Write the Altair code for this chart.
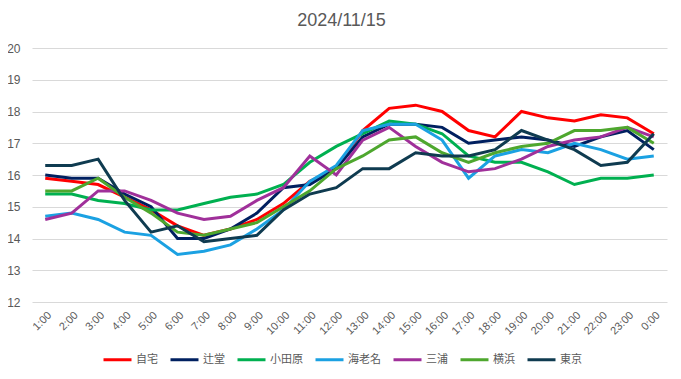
import altair as alt
import pandas as pd

hours = ["1:00", "2:00", "3:00", "4:00", "5:00", "6:00", "7:00", "8:00", "9:00", "10:00",
         "11:00", "12:00", "13:00", "14:00", "15:00", "16:00", "17:00", "18:00", "19:00",
         "20:00", "21:00", "22:00", "23:00", "0:00"]

series_names = ["自宅", "辻堂", "小田原", "海老名", "三浦", "横浜", "東京"]
series_colors = ["#FF0000", "#002060", "#00B050", "#1BA1E2", "#A0309A", "#4EA72E", "#0F3B50"]

jitaku   = [15.9, 15.8, 15.7, 15.3, 14.9, 14.4, 14.1, 14.3, 14.6, 15.1, 15.8, 16.2, 17.4, 18.1, 18.2, 18.0, 17.4, 17.2, 18.0, 17.8, 17.7, 17.9, 17.8, 17.3]
tsujido  = [16.0, 15.9, 15.9, 15.4, 15.0, 14.0, 14.0, 14.3, 14.8, 15.6, 15.7, 16.2, 17.2, 17.6, 17.6, 17.5, 17.0, 17.1, 17.2, 17.1, 16.9, 17.2, 17.4, 16.8]
odawara  = [15.4, 15.4, 15.2, 15.1, 14.9, 14.9, 15.1, 15.3, 15.4, 15.7, 16.4, 16.9, 17.3, 17.7, 17.6, 17.3, 16.6, 16.4, 16.4, 16.1, 15.7, 15.9, 15.9, 16.0]
ebina    = [14.7, 14.8, 14.6, 14.2, 14.1, 13.5, 13.6, 13.8, 14.3, 14.9, 15.8, 16.3, 17.4, 17.6, 17.6, 17.1, 15.9, 16.6, 16.8, 16.7, 17.0, 16.8, 16.5, 16.6]
miura    = [14.6, 14.8, 15.5, 15.5, 15.2, 14.8, 14.6, 14.7, 15.2, 15.6, 16.6, 16.0, 17.1, 17.5, 16.9, 16.4, 16.1, 16.2, 16.5, 16.9, 17.1, 17.2, 17.5, 17.2]
yokohama = [15.5, 15.5, 15.9, 15.3, 14.8, 14.2, 14.1, 14.3, 14.5, 15.0, 15.5, 16.2, 16.6, 17.1, 17.2, 16.7, 16.4, 16.7, 16.9, 17.0, 17.4, 17.4, 17.5, 17.0]
tokyo    = [16.3, 16.3, 16.5, 15.2, 14.2, 14.4, 13.9, 14.0, 14.1, 14.9, 15.4, 15.6, 16.2, 16.2, 16.7, 16.6, 16.6, 16.8, 17.4, 17.1, 16.8, 16.3, 16.4, 17.3]

all_series = [jitaku, tsujido, odawara, ebina, miura, yokohama, tokyo]

rows = []
for order, (name, vals) in enumerate(zip(series_names, all_series)):
    for h, v in zip(hours, vals):
        rows.append({"時刻": h, "系列": name, "値": v, "順": order})
df = pd.DataFrame(rows)

gray = "#595959"

chart = alt.Chart(df).mark_line(strokeWidth=3).encode(
    x=alt.X("時刻:N", sort=hours, title=None,
            scale=alt.Scale(type="point", padding=0.5),
            axis=alt.Axis(labelAngle=-45, domain=False, ticks=False, labelPadding=7,
                          labelColor=gray, labelFontSize=11, labelFont="Liberation Sans",
                          grid=False)),
    y=alt.Y("値:Q", title=None,
            scale=alt.Scale(domain=[12, 20], nice=False, zero=False),
            axis=alt.Axis(values=list(range(12, 21)), domain=False, ticks=False,
                          labelPadding=12, labelColor=gray, labelFontSize=12,
                          labelFont="Liberation Sans", gridColor="#D9D9D9")),
    color=alt.Color("系列:N", title=None,
                    scale=alt.Scale(domain=series_names, range=series_colors),
                    legend=alt.Legend(orient="none", direction="horizontal",
                                      legendX=70, legendY=296,
                                      symbolType="stroke", symbolSize=784,
                                      symbolStrokeWidth=3, labelFontSize=11,
                                      labelFont="Noto Sans CJK JP", labelColor=gray,
                                      columnPadding=6, labelOffset=3)),
    order=alt.Order("順:Q"),
).properties(
    width=635,
    height=254,
    title=alt.TitleParams("2024/11/15", fontSize=18, font="Liberation Sans",
                          fontWeight="normal", color=gray, offset=12, dx=-8),
    autosize=alt.AutoSizeParams(type="none"),
    padding={"left": 24, "top": 40, "right": 6, "bottom": 69},
).configure_view(stroke=None)

chart.save("out.html", embed_options={"renderer": "svg", "actions": False})
